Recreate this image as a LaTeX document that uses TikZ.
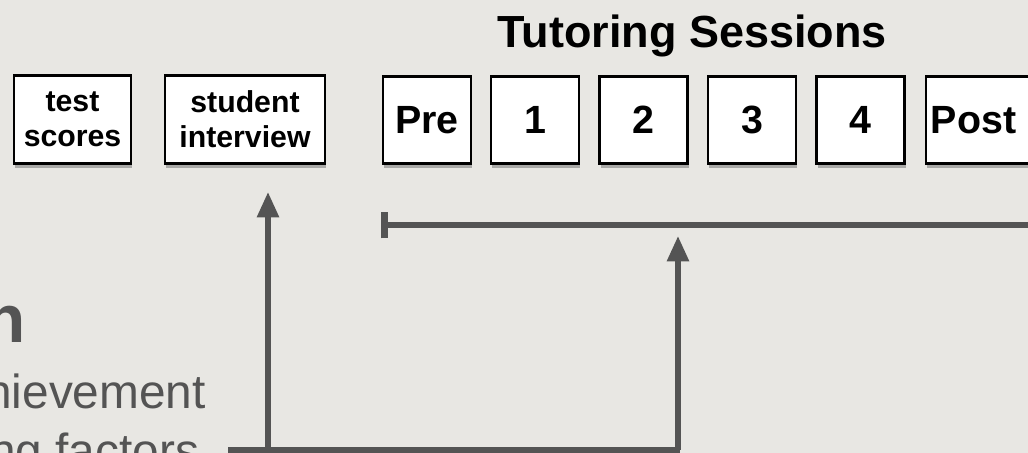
\documentclass[tikz,border=0pt]{standalone}
\usepackage{fontspec}
\setmainfont{Liberation Sans}
\usetikzlibrary{arrows.meta, shadows}
\definecolor{paper}{RGB}{232,231,227}
\definecolor{ink}{RGB}{84,84,84}
\begin{document}
\begin{tikzpicture}[x=0.025cm, y=-0.025cm]
\useasboundingbox (0,0) rectangle (1028,453);
\fill[paper] (0,0) rectangle (1028,453);
\tikzstyle{box}=[rectangle, draw=black, line width=2pt, fill=white, inner sep=0pt,
                 align=center, font=\bfseries, minimum height=2.18cm,
                 drop shadow={shadow xshift=0.8pt, shadow yshift=-3.2pt, opacity=0.6}]
\tikzstyle{sess}=[box, minimum width=2.2cm, font=\fontsize{28}{30}\bfseries]
\tikzstyle{line}=[draw=ink, line width=3.8pt]
\tikzstyle{up}=[line, -{Triangle[length=18pt, width=15pt]}]
% left text (cut by the frame)
\node[anchor=base west, text=ink, font=\fontsize{48}{50}\bfseries, inner sep=0pt](head) at (-16,342){n};
\node[anchor=base west, text=ink, font=\fontsize{34}{36}\selectfont, inner sep=0pt](aim) at (-15,408){hievement};
\node[anchor=base west, text=ink, font=\fontsize{34}{36}\selectfont, inner sep=0pt](fac) at (-11,467){ng factors};
% boxes
\node[font=\fontsize{32}{34}\bfseries](title) at (692,36){Tutoring Sessions};
\node[box, minimum width=2.92cm, font=\fontsize{21.5}{25}\bfseries](test) at (72.5,119.5){test\\scores};
\node[box, minimum width=4cm, font=\fontsize{21.5}{25}\bfseries](intv) at (245,119.5){student\\interview};
\foreach \n/\x/\t in {pre/427/Pre, s1/535/1, s2/643.5/2, s3/752/3, s4/860.5/4}{\node[sess](\n) at (\x,120){\t};}
\node[sess, minimum width=2.65cm, text width=2.4cm, align=left](post) at (979,120){Post};
% connectors
\coordinate (tl) at (381,225);
\coordinate (tr) at (1040,225);
\coordinate (b1) at (228,450);
\coordinate (b2) at (680,450);
\coordinate (f1) at (268,450);
\coordinate (f2) at (678,450);
\coordinate (h1) at (268,192);
\coordinate (h2) at (678,236);
\draw[line, line width=4.8pt, {Bar[width=19pt, line width=4.8pt]}-] (tl) -- (tr);
\draw[line] (b1) -- (b2);
\draw[up] (f1) -- (h1);
\draw[up] (f2) -- (h2);
\end{tikzpicture}
\end{document}
